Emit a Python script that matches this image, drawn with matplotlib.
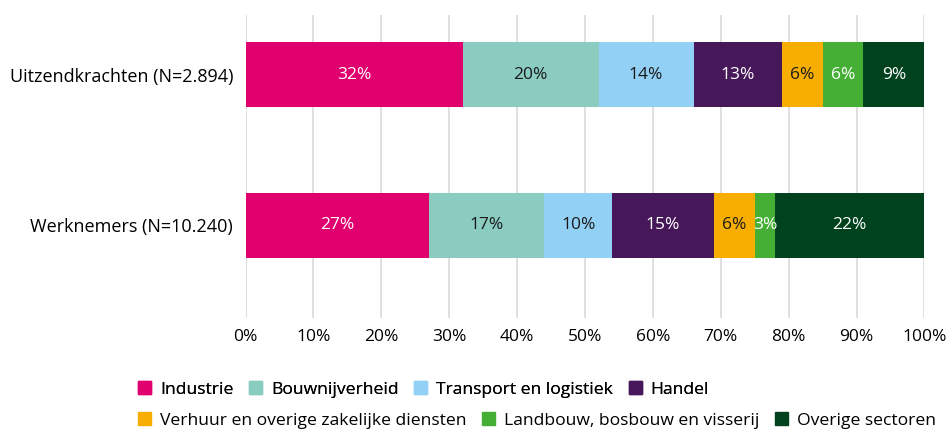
import numpy as np
import matplotlib.pyplot as plt
from matplotlib.patches import Patch

plt.rcParams['font.family'] = ['Open Sans', 'DejaVu Sans']

# Data
groups = ['Uitzendkrachten (N=2.894)', 'Werknemers (N=10.240)']
sectors = ['Industrie', 'Bouwnijverheid', 'Transport en logistiek', 'Handel',
           'Verhuur en overige zakelijke diensten', 'Landbouw, bosbouw en visserij',
           'Overige sectoren']
uitzend = [32, 20, 14, 13, 6, 6, 9]
werknemers = [27, 17, 10, 15, 6, 3, 22]

colors = ['#E0006E', '#8ACCC0', '#92D1F5', '#46185A', '#F8AE00', '#45AF35', '#00421E']
text_colors = ['white', '#1a1a1a', '#1a1a1a', 'white', '#1a1a1a', 'white', 'white']

values = np.array([uitzend, werknemers])

fig = plt.figure(figsize=(9.52, 4.33), dpi=100)
ax = fig.add_axes([0.258, 0.266, 0.713, 0.699])

y = np.arange(len(groups))
left = np.zeros(len(groups))
for i, sector in enumerate(sectors):
    bars = ax.barh(y, values[:, i], left=left, height=0.43, color=colors[i],
                   label=sector, zorder=3)
    for j, b in enumerate(bars):
        ax.text(left[j] + values[j, i] / 2, y[j], f'{values[j, i]}%',
                ha='center', va='center', color=text_colors[i], fontsize=12.5,
                zorder=4)
    left += values[:, i]

ax.set_xlim(0, 100)
ax.set_ylim(1.613, -0.394)
ax.set_xticks(np.arange(0, 101, 10))
ax.set_xticklabels([f'{t}%' for t in range(0, 101, 10)], fontsize=12.5)
ax.set_yticks(y)
ax.set_yticklabels(groups, fontsize=13)
ax.tick_params(length=0, pad=8)
ax.tick_params(axis='y', pad=9)
ax.grid(axis='x', color='#d9d9d9', linewidth=1.2, zorder=0)
for s in ax.spines.values():
    s.set_visible(False)

handles = [Patch(color=c, label=s) for c, s in zip(colors, sectors)]
leg_kw = dict(loc='upper left', frameon=False, fontsize=12.6, handlelength=0.75,
              handleheight=0.75, handletextpad=0.5, columnspacing=0.9,
              borderaxespad=0, borderpad=0)
leg1 = fig.legend(handles=handles[:4], bbox_to_anchor=(0.145, 0.12), ncol=4, **leg_kw)
fig.add_artist(leg1)
fig.legend(handles=handles[4:], bbox_to_anchor=(0.145, 0.048), ncol=3, **leg_kw)

fig.savefig('out.png', dpi=100)
